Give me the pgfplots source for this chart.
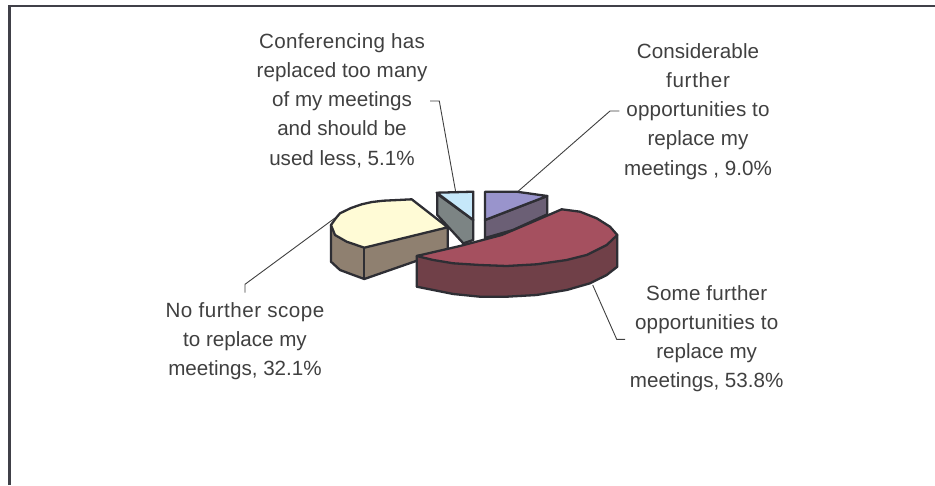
\documentclass[border=0pt]{standalone}
\usepackage{pgfplots}
\pgfplotsset{compat=1.18}
\usepackage{fontspec}
\setmainfont{Liberation Sans}
\definecolor{txt}{HTML}{404040}
\definecolor{edge}{HTML}{2E2E34}
\definecolor{frm}{HTML}{404048}
\newcommand{\lab}[4][0]{\node[anchor=base,inner sep=0pt,text=txt,font=\fontsize{20.6}{29}\selectfont] at (axis cs:#2,#3) {\addfontfeature{LetterSpace=#1}#4};}
\begin{document}
\begin{tikzpicture}
\begin{axis}[
  width=935pt,height=485pt,scale only axis,
  xmin=0,xmax=935,ymin=0,ymax=485,y dir=reverse,
  hide axis,clip=true,
  slice/.style={draw=edge,line width=2.3pt,line join=round},
  lead/.style={draw=txt,line width=0.9pt},
]
% canvas and frame
\addplot[draw=none,fill=white] coordinates {(0,0)(935,0)(935,485)(0,485)} \closedcycle;
\addplot[draw=frm,line width=2.2pt] coordinates {(9.5,485)(9.5,6.3)(935,6.3)};
% leader lines
\addplot[lead] coordinates {(430,101)(439.3,101)(455.7,192)};
\addplot[lead] coordinates {(619.3,111)(610,111)(517.3,192)};
\addplot[lead] coordinates {(245,292.7)(245,284.3)(335,218)};
\addplot[lead] coordinates {(592.7,285)(616.7,339.3)(625,339.3)};
% yellow slice: 32.1
\addplot[slice,fill={rgb,255:red,143;green,128;blue,112}] coordinates {(331,225)(331,261.7)(340,270)(352,274.5)(364.3,279)(447.7,250)(447.7,227.3)} -- cycle;
\addplot[slice] coordinates {(364.3,247.7)(364.3,279)};
\addplot[slice,fill={rgb,255:red,255;green,251;blue,214}] coordinates {(331,225)(336,218)(340,213.3)(351,208)(361.7,204.3)(372,202)(383.3,200.7)(398,200)(411.7,199.3)(447.7,227.3)(364.3,247.7)(346.7,241.7)(335,235)} -- cycle;
% light blue slice: 5.1
\addplot[slice,fill={rgb,255:red,124;green,132;blue,132}] coordinates {(437.3,194)(437.3,215)(463.3,243.3)(473.3,240)(473.3,220)} -- cycle;
\addplot[slice,fill={rgb,255:red,198;green,232;blue,250}] coordinates {(436.7,192.7)(473.3,191.7)(473.3,220)} -- cycle;
% purple slice: 9.0
\addplot[slice,fill={rgb,255:red,107;green,95;blue,117}] coordinates {(485,220)(485,238)(513,230)(547.3,214.3)(547.3,196)} -- cycle;
\addplot[slice,fill={rgb,255:red,153;green,148;blue,204}] coordinates {(485,191.7)(516.7,191.7)(533,194)(547.3,196)(485,220)} -- cycle;
% maroon slice: 53.8
\addplot[slice,fill={rgb,255:red,112;green,64;blue,72}] coordinates {(416.7,256)(416.7,286.7)(433.3,290)(453.3,294)(480,296.7)(506.7,296.7)(536.7,295)(566.7,290)(590,283.3)(606.7,275)(617.3,266.7)(617.3,235)} -- cycle;
\addplot[slice,fill={rgb,255:red,165;green,80;blue,95}] coordinates {(416.7,256)(460,246)(501.7,235)(530,223)(561.7,209.3)(580,211.7)(596.7,218.3)(610,226.7)(617.3,235)(606.7,245)(586.7,255)(566.7,260)(536.7,264.3)(506.7,266)(480,265)(453.3,263.3)(433.3,260)} -- cycle;
% labels
\lab[1.5]{342}{48}{Conferencing has}
\lab[0.5]{342}{77}{replaced too many}
\lab{342}{106}{of my meetings}
\lab{342}{135}{and should be}
\lab{342}{165}{used less, 5.1\%}
\lab[0.4]{698}{58}{Considerable}
\lab[3.4]{698}{87}{further}
\lab[0.8]{698}{116}{opportunities to}
\lab{698}{145}{replace my}
\lab{698}{175}{meetings , 9.0\%}
\lab[1]{706.7}{300}{Some further}
\lab[0.8]{706.7}{329}{opportunities to}
\lab{706.7}{358}{replace my}
\lab{706.7}{387}{meetings, 53.8\%}
\lab[2.4]{245}{317}{No further scope}
\lab{245}{346}{to replace my}
\lab{245}{375}{meetings, 32.1\%}
\end{axis}
\end{tikzpicture}
\end{document}
